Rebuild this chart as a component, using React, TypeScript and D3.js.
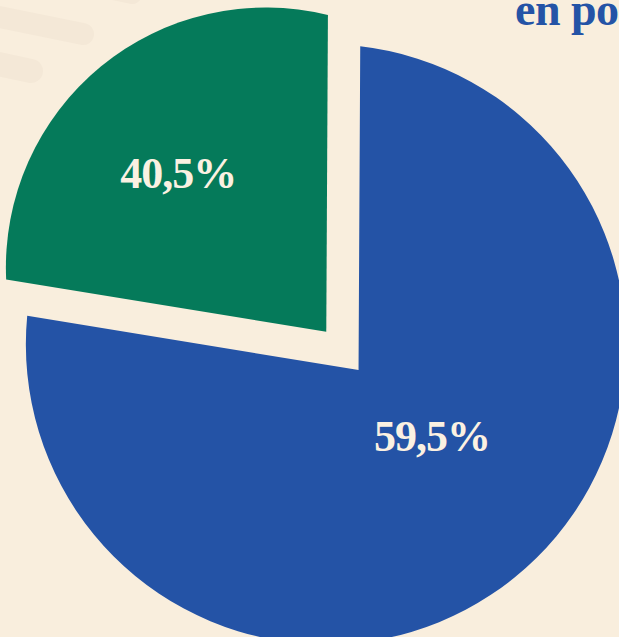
import React from "react";
import * as d3 from "d3";

// ---- data ----
const sliceKeys = ["blue", "green"];
const shareLabels = ["59,5%", "40,5%"];
// angular share of each slice as drawn in the reference (percent of the full turn)
const drawnShares = [77.5, 22.5];
const titleText = "en porcentaje";

// ---- layout & style ----
const W = 619;
const H = 637;
const BG = "#f9eedd";
const SLICE_COLORS: Record<string, string> = { blue: "#2453a6", green: "#057a5a" };
const LABEL_COLOR = "#fbf1e2";
const DECO_COLOR = "#f4e8d7";
const PIE_CENTER: [number, number] = [342.4, 350.9];
const START_DEG = 0.3;
const EXPLODE = [25, 25];
const RADII = [300, 260];
// arc-centre offset from each slice apex: [along mid-angle, across]
const ARC_OFFSET = [
  [-40.7, 8.4],
  [88.1, -4.6],
];
const LABEL_OFFSET = [
  [98.1, -13.4],
  [216.9, -10.4],
];

type Pt = [number, number];

function slicePath(apex: Pt, a0: number, a1: number, O: Pt, R: number) {
  const ray = (t: number): Pt => {
    const u = [Math.sin(t), -Math.cos(t)];
    const w = [apex[0] - O[0], apex[1] - O[1]];
    const b = w[0] * u[0] + w[1] * u[1];
    const c = w[0] * w[0] + w[1] * w[1] - R * R;
    const s = -b + Math.sqrt(b * b - c);
    return [apex[0] + s * u[0], apex[1] + s * u[1]];
  };
  const c0 = ray(a0);
  const c1 = ray(a1);
  const p0 = Math.atan2(c0[1] - O[1], c0[0] - O[0]);
  const p1 = Math.atan2(c1[1] - O[1], c1[0] - O[0]);
  const p = d3.path();
  p.moveTo(apex[0], apex[1]);
  p.lineTo(c0[0], c0[1]);
  p.arc(O[0], O[1], R, p0, p1, false);
  p.closePath();
  return p.toString();
}

export default function App() {
  React.useEffect(() => {
    document.body.style.margin = "0";
    document.body.style.background = BG;
  }, []);

  const start = (START_DEG * Math.PI) / 180;
  const pie = d3
    .pie<number>()
    .sort(null)
    .value((d) => d)
    .startAngle(start)
    .endAngle(start + 2 * Math.PI);
  const arcs = pie(drawnShares);

  const slices = arcs.map((a, i) => {
    const mid = (a.startAngle + a.endAngle) / 2;
    const dir: Pt = [Math.sin(mid), -Math.cos(mid)];
    const perp: Pt = [Math.cos(mid), Math.sin(mid)];
    const apex: Pt = [
      PIE_CENTER[0] + EXPLODE[i] * dir[0],
      PIE_CENTER[1] + EXPLODE[i] * dir[1],
    ];
    const O: Pt = [
      apex[0] + ARC_OFFSET[i][0] * dir[0] + ARC_OFFSET[i][1] * perp[0],
      apex[1] + ARC_OFFSET[i][0] * dir[1] + ARC_OFFSET[i][1] * perp[1],
    ];
    const label: Pt = [
      apex[0] + LABEL_OFFSET[i][0] * dir[0] + LABEL_OFFSET[i][1] * perp[0],
      apex[1] + LABEL_OFFSET[i][0] * dir[1] + LABEL_OFFSET[i][1] * perp[1],
    ];
    return {
      key: sliceKeys[i],
      d: slicePath(apex, a.startAngle, a.endAngle, O, RADII[i]),
      label,
      text: shareLabels[i],
    };
  });

  const decos = [
    { x1: 20, y1: -30, x2: 132, y2: -6, w: 20 },
    { x1: -30, y1: 11, x2: 83, y2: 34, w: 22 },
    { x1: -30, y1: 58, x2: 31, y2: 71, w: 24 },
  ];

  return (
    <svg
      width={W}
      height={H}
      viewBox={`0 0 ${W} ${H}`}
      style={{ position: "absolute", left: 0, top: 0, display: "block" }}
    >
      <rect width={W} height={H} fill={BG} />
      {decos.map((l, i) => (
        <line
          key={i}
          x1={l.x1}
          y1={l.y1}
          x2={l.x2}
          y2={l.y2}
          stroke={DECO_COLOR}
          strokeWidth={l.w}
          strokeLinecap="round"
        />
      ))}
      <text
        x={515}
        y={25}
        fill={SLICE_COLORS.blue}
        fontFamily="'Liberation Serif', 'DejaVu Serif', serif"
        fontWeight="bold"
        fontSize={46}
        letterSpacing={-0.5}
      >
        {titleText}
      </text>
      {slices.map((s) => (
        <path key={s.key} d={s.d} fill={SLICE_COLORS[s.key]} />
      ))}
      {slices.map((s) => (
        <text
          key={s.key + "-l"}
          x={s.label[0]}
          y={s.label[1]}
          dy="0.34em"
          textAnchor="middle"
          fill={LABEL_COLOR}
          fontFamily="'Liberation Serif', 'DejaVu Serif', serif"
          fontWeight="bold"
          fontSize={44}
          letterSpacing={-1}
        >
          {s.text}
        </text>
      ))}
    </svg>
  );
}
